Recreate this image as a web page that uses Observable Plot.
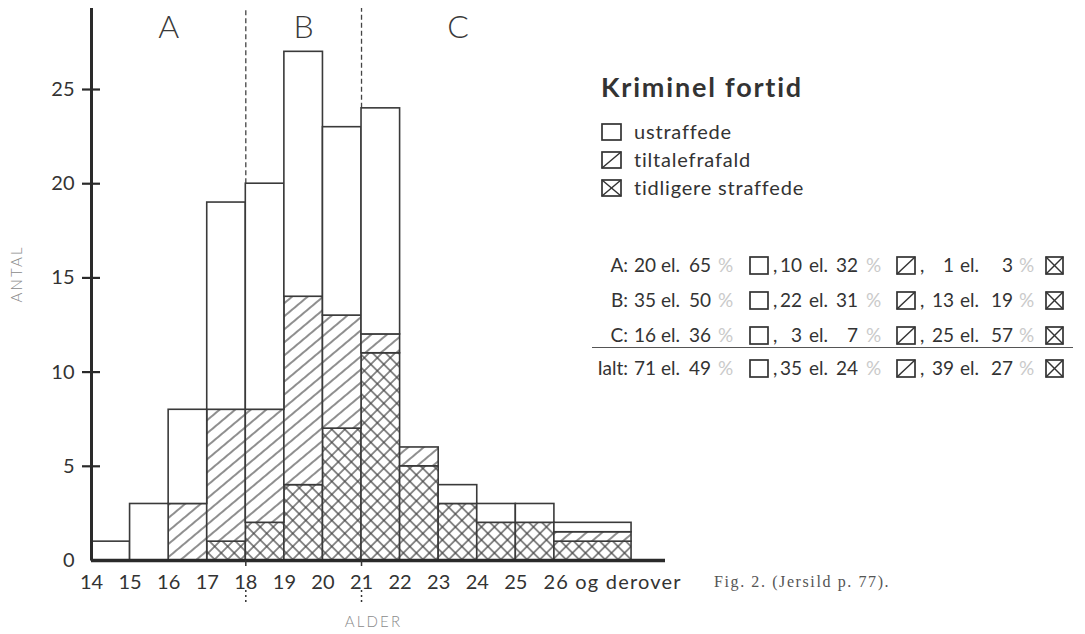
<!DOCTYPE html>
<html>
<head>
<meta charset="utf-8">
<script src="https://cdn.jsdelivr.net/npm/d3@7"></script>
<script src="https://cdn.jsdelivr.net/npm/@observablehq/plot@0.6"></script>
<style>
  html, body { margin: 0; padding: 0; background: #fff; }
  #wrap { position: relative; width: 1085px; height: 634px; overflow: hidden; font-family: Lato, "Open Sans", sans-serif; color: #333; }
  #wrap svg.plot { position: absolute; left: 0; top: 0; }
  .abs { position: absolute; white-space: pre; line-height: 24px; height: 24px; }
  .pct { color: #cacaca; }
  .box { position: absolute; }
</style>
</head>
<body>
<div id="wrap"></div>
<script>
// ---------- data ----------
const ageFrom = [14, 15, 16, 17, 18, 19, 20, 21, 22, 23, 24, 25, 26];
const ageTo   = [15, 16, 17, 18, 19, 20, 21, 22, 23, 24, 25, 26, 28];
const ustraffede     = [1, 3, 5, 11, 12, 13, 10, 12, 0, 1, 1, 1, 1];
const tiltalefrafald = [0, 0, 3,  7,  6, 10,  6,  1, 1, 0, 0, 0, 1];
const tidligere      = [0, 0, 0,  1,  2,  4,  7, 11, 5, 3, 2, 2, 2];

const xTickValues = [14, 15, 16, 17, 18, 19, 20, 21, 22, 23, 24, 25];
const xLastTick = 26;
const xLastLabel = "26 og derover";
const yTicks = [0, 5, 10, 15, 20, 25];

const regionNames = ["A", "B", "C"];
const regionFrom  = [14, 18, 21];
const regionTo    = [18, 21, 26];
const dividers    = [18, 21];

const legendTitle = "Kriminel fortid";
const seriesNames = ["ustraffede", "tiltalefrafald", "tidligere straffede"];

const groupNames = ["A", "B", "C", "Ialt"];
const groupU    = [20, 35, 16, 71];
const groupUPct = [65, 50, 36, 49];
const groupT    = [10, 22, 3, 35];
const groupTPct = [32, 31, 7, 24];
const groupX    = [1, 13, 25, 39];
const groupXPct = [3, 19, 57, 27];

const caption = "Fig. 2. (Jersild p. 77).";
const xLabel = "ALDER";
const yLabel = "ANTAL";

// ---------- derived table ----------
const rows = ageFrom.map((a, i) => {
  const w = ageTo[i] - a;
  const c1 = tidligere[i] / w;
  const c2 = c1 + tiltalefrafald[i] / w;
  const c3 = c2 + ustraffede[i] / w;
  return {from: a, to: ageTo[i], c0: 0, c1, c2, c3};
});
const totalAt = (age) => rows.find(r => r.from === age).c3;
const yMax = 29.3;

const ink = "#333";
const plot = Plot.plot({
  width: 1085,
  height: 634,
  marginLeft: 91,
  marginRight: 420,
  marginTop: 8,
  marginBottom: 74,
  x: {domain: [14, 28.88], axis: null},
  y: {domain: [0, yMax], axis: null},
  style: {fontFamily: "Lato, 'Open Sans', sans-serif", background: "transparent", color: ink},
  marks: [
    // dashed region dividers above the bars
    Plot.ruleX(dividers, {x: d => d, y1: d => totalAt(d), y2: yMax, stroke: "#444", strokeWidth: 1.3, strokeDasharray: "5,3"}),
    // bars
    Plot.rectY(rows.filter(r => r.c1 > r.c0), {x1: "from", x2: "to", y1: "c0", y2: "c1", fill: "url(#hx)", stroke: "#3a3a3a", strokeWidth: 1.6}),
    Plot.rectY(rows.filter(r => r.c2 > r.c1), {x1: "from", x2: "to", y1: "c1", y2: "c2", fill: "url(#hd)", stroke: "#3a3a3a", strokeWidth: 1.6}),
    Plot.rectY(rows.filter(r => r.c3 > r.c2), {x1: "from", x2: "to", y1: "c2", y2: "c3", fill: "white", stroke: "#3a3a3a", strokeWidth: 1.6}),
    // axes lines
    Plot.ruleX([14], {stroke: "#2a2a2a", strokeWidth: 3}),
    Plot.ruleY([0], {stroke: "#2a2a2a", strokeWidth: 3.4}),
    // y ticks (crossing the axis)
    Plot.ruleY(yTicks.filter(d => d > 0), {y: d => d, x1: 14, x2: 14, insetLeft: -9, insetRight: -9, stroke: "#2a2a2a", strokeWidth: 2.2}),
    Plot.text(yTicks, {x: 14, y: d => d, dx: -17, textAnchor: "end", text: d => String(d), fontSize: 20, fill: ink}),
    // x tick marks + dotted extensions below at dividers
    Plot.axisX(dividers, {tickSize: 44, tickPadding: 0, tickFormat: () => "", label: null, stroke: "#333", strokeWidth: 1.5, strokeDasharray: "6 24 2 3 2 3 2 3 2 3"}),
    // x tick labels
    Plot.text(xTickValues, {x: d => d, frameAnchor: "bottom", lineAnchor: "middle", dy: 22, text: d => String(d), fontSize: 20, fill: ink}),
    Plot.text([xLastTick], {x: d => d, frameAnchor: "bottom", lineAnchor: "middle", dy: 22, dx: -11, textAnchor: "start", text: () => xLastLabel, fontSize: 20, fill: ink}),
    // region letters
    Plot.text(regionNames, {x: (d, i) => (regionFrom[i] + regionTo[i]) / 2, frameAnchor: "top", lineAnchor: "middle", dy: 19, text: d => d, fontSize: 32, fontWeight: 300, fill: "#3a3a3a"}),
    // axis titles
    Plot.text([yLabel], {frameAnchor: "left", dx: -74, dy: 18, rotate: -90, text: d => d, fontSize: 15, fill: "#8a8a8a", fontWeight: 300}),
    Plot.text([xLabel], {frameAnchor: "bottom", lineAnchor: "middle", dy: 62, dx: -5, text: d => d, fontSize: 15, fill: "#8a8a8a", fontWeight: 300})
  ]
});

// patterns
const svg = d3.select(plot);
const defs = svg.insert("defs", ":first-child");
const pd = defs.append("pattern").attr("id", "hd").attr("patternUnits", "userSpaceOnUse")
  .attr("width", 10).attr("height", 10).attr("patternTransform", "rotate(-40)");
pd.append("rect").attr("width", 10).attr("height", 10).attr("fill", "white");
pd.append("line").attr("x1", -1).attr("y1", 5).attr("x2", 11).attr("y2", 5).attr("stroke", "#444").attr("stroke-width", 1.2);
const px = defs.append("pattern").attr("id", "hx").attr("patternUnits", "userSpaceOnUse")
  .attr("width", 9.2).attr("height", 9.2).attr("patternTransform", "rotate(45)");
px.append("rect").attr("width", 9.2).attr("height", 9.2).attr("fill", "white");
px.append("line").attr("x1", -1).attr("y1", 4.6).attr("x2", 10.2).attr("y2", 4.6).attr("stroke", "#444").attr("stroke-width", 1.2);
px.append("line").attr("x1", 4.6).attr("y1", -1).attr("x2", 4.6).attr("y2", 10.2).attr("stroke", "#444").attr("stroke-width", 1.2);

svg.selectAll("text").filter(function () { return this.textContent === yLabel || this.textContent === xLabel; })
  .attr("letter-spacing", 2.2);
svg.selectAll("text").filter(function () { return this.textContent === xLastLabel; })
  .attr("letter-spacing", 1.2);

const wrap = document.getElementById("wrap");
wrap.appendChild(plot);

// ---------- HTML legend / summary ----------
function boxSVG(kind, w, h) {
  const ns = "http://www.w3.org/2000/svg";
  const s = document.createElementNS(ns, "svg");
  s.setAttribute("width", w); s.setAttribute("height", h);
  let inner = `<rect x="1" y="1" width="${w - 2}" height="${h - 2}" fill="white" stroke="#333" stroke-width="1.7"/>`;
  if (kind >= 1) inner += `<line x1="1" y1="${h - 1}" x2="${w - 1}" y2="1" stroke="#333" stroke-width="1.5"/>`;
  if (kind >= 2) inner += `<line x1="1" y1="1" x2="${w - 1}" y2="${h - 1}" stroke="#333" stroke-width="1.5"/>`;
  s.innerHTML = inner;
  return s;
}
function put(text, x, yc, opts = {}) {
  const el = document.createElement("div");
  el.className = "abs" + (opts.cls ? " " + opts.cls : "");
  el.textContent = text;
  el.style.fontSize = (opts.size || 19) + "px";
  if (opts.weight) el.style.fontWeight = opts.weight;
  if (opts.family) el.style.fontFamily = opts.family;
  if (opts.color) el.style.color = opts.color;
  if (opts.ls) el.style.letterSpacing = opts.ls + "px";
  el.style.top = (yc - 12) + "px";
  if (opts.right) el.style.right = (1085 - x) + "px"; else el.style.left = x + "px";
  wrap.appendChild(el);
  return el;
}
function putBox(kind, x, yc, w, h) {
  const b = boxSVG(kind, w, h);
  b.setAttribute("class", "box");
  b.style.left = x + "px";
  b.style.top = (yc - h / 2) + "px";
  wrap.appendChild(b);
}

put(legendTitle, 601, 87, {size: 27, weight: 700, color: "#333", ls: 1.8});
const legendY = [131.5, 159.5, 187.5];
seriesNames.forEach((name, i) => {
  putBox(i, 601, legendY[i], 21, 18);
  put(name, 634, legendY[i] - 1, {size: 20, ls: 0.8});
});

const rowY = [265, 300, 335, 368];
groupNames.forEach((g, i) => {
  const y = rowY[i];
  put(g + ":", 628, y, {right: true});
  put(String(groupU[i]), 656, y, {right: true});
  put("el.", 661, y);
  put(String(groupUPct[i]), 711, y, {right: true});
  put("%", 718, y, {cls: "pct", size: 19});
  putBox(0, 749, y, 20, 19);
  put(",", 773, y);
  put(String(groupT[i]), 802, y, {right: true});
  put("el.", 809, y);
  put(String(groupTPct[i]), 858, y, {right: true});
  put("%", 866, y, {cls: "pct", size: 19});
  putBox(1, 896, y, 20, 19);
  put(",", 920, y);
  put(String(groupX[i]), 954, y, {right: true});
  put("el.", 960, y);
  put(String(groupXPct[i]), 1013, y, {right: true});
  put("%", 1019, y, {cls: "pct", size: 19});
  putBox(2, 1045, y, 19, 19);
});
const line = document.createElement("div");
line.style.cssText = "position:absolute;left:592px;top:347px;width:481px;height:0;border-top:1.4px solid #555;";
wrap.appendChild(line);

put(caption, 714, 582, {size: 16, family: "'Liberation Serif', 'DejaVu Serif', serif", color: "#555", ls: 1.6});
</script>
</body>
</html>
